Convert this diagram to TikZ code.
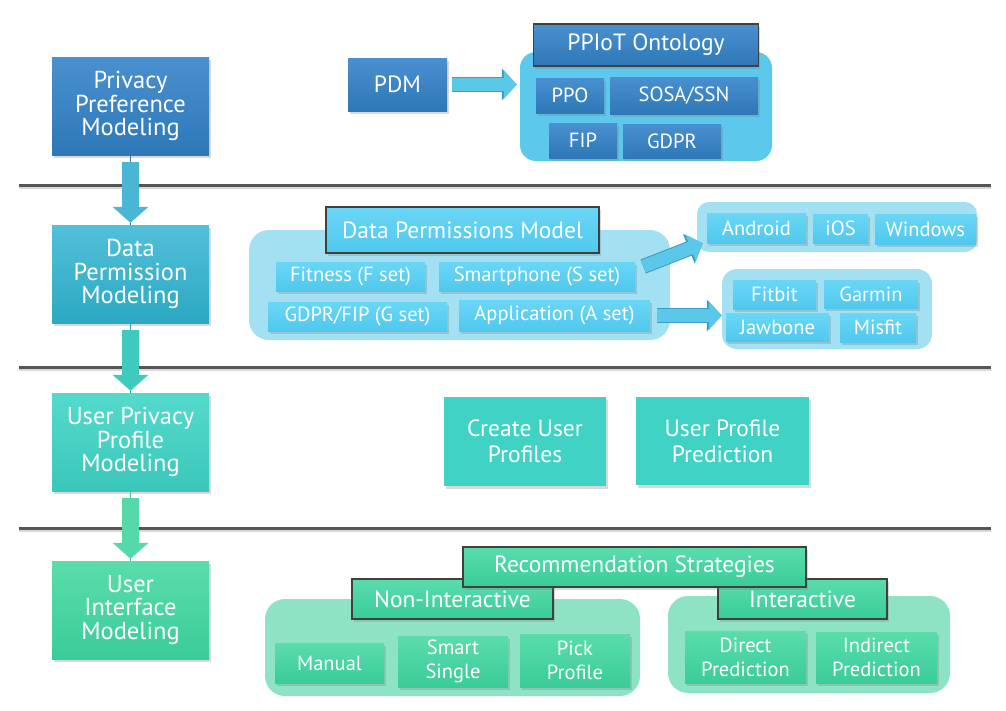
\documentclass[tikz,border=0pt]{standalone}
\usepackage{fontspec}
\setmainfont{PT Sans}
\usepackage{tikz}
\usetikzlibrary{arrows.meta}
\usetikzlibrary{shadows}
\usetikzlibrary{positioning}

\definecolor{blueTop}{HTML}{4A90D0}
\definecolor{blueBot}{HTML}{2E78B8}
\definecolor{tealTop}{HTML}{52C0DA}
\definecolor{tealBot}{HTML}{2CA8C2}
\definecolor{aquaTop}{HTML}{55DACD}
\definecolor{aquaBot}{HTML}{3AC7BA}
\definecolor{aquaFlat}{HTML}{40D3C5}
\definecolor{greenTop}{HTML}{5ADDAB}
\definecolor{greenBot}{HTML}{3ACC98}
\definecolor{skyTop}{HTML}{6AD6F6}
\definecolor{skyBot}{HTML}{50C8EE}
\definecolor{ontFill}{HTML}{5BC8EC}
\definecolor{paleSky}{HTML}{A2E0F2}
\definecolor{paleGreen}{HTML}{8EE3C5}
\definecolor{arrowA}{HTML}{48B6D4}
\definecolor{arrowB}{HTML}{3ECBBE}
\definecolor{arrowC}{HTML}{56D9A9}
\definecolor{sideArrow}{HTML}{5BC8EA}
\definecolor{sideEdge}{HTML}{3A9CC8}
\definecolor{sepLine}{HTML}{555555}

\begin{document}
\begin{tikzpicture}[x=1pt,y=-1pt,
	box/.style={text=white, align=center, inner sep=0pt,
		drop shadow={shadow xshift=1.5pt, shadow yshift=-2.5pt, opacity=.3}},
	huge/.style={font=\fontsize{24.5}{23.5}\selectfont},
	big/.style={font=\fontsize{23.5}{26}\selectfont},
	small/.style={font=\fontsize{20.5}{24}\selectfont},
	blue box/.style={box, top color=blueTop, bottom color=blueBot},
	teal box/.style={box, top color=tealTop, bottom color=tealBot},
	aqua box/.style={box, top color=aquaTop, bottom color=aquaBot},
	green box/.style={box, top color=greenTop, bottom color=greenBot},
	sky box/.style={box, top color=skyTop, bottom color=skyBot},
	head/.style={draw=black!75, line width=1.2pt},
	group/.style={rounded corners=16pt, inner sep=0pt},
	down arrow/.style={draw=#1, line width=17pt, shorten <=7pt, shorten >=2pt,
		-{Triangle[length=16pt,width=35pt]}},
	side arrow/.style={draw=sideArrow, line width=13pt,
		preaction={draw=sideEdge, line width=15pt, -{Triangle[length=15pt,width=31pt]}},
		-{Triangle[length=13pt,width=28pt]}},
	sep/.style={draw=sepLine, line width=3pt,
		preaction={draw=black!15, line width=3pt, transform canvas={yshift=-2pt}}}
	]
	\useasboundingbox (0,0) rectangle (1006,710);

	% layer separators
	\foreach \y in {185,367,528}{
		\draw[sep] (19,\y) -- (991,\y);
	}

	% left column
	\node[blue box, huge, minimum width=157pt, minimum height=98pt] (ppm) at (130.5,106) {Privacy\\Preference\\Modeling};
	\node[teal box, huge, minimum width=157pt, minimum height=98pt] (dpm) at (130.5,274) {Data\\Permission\\Modeling};
	\node[aqua box, huge, minimum width=157pt, minimum height=98pt] (upm) at (130.5,442) {User Privacy\\Profile\\Modeling};
	\node[green box, huge, minimum width=157pt, minimum height=98pt] (uim) at (130.5,610) {User\\Interface\\Modeling};

	\draw[blueBot] (ppm.south) -- (dpm.north);
	\draw[tealBot] (dpm.south) -- (upm.north);
	\draw[aquaBot] (upm.south) -- (uim.north);
	\draw[down arrow=arrowA] (ppm.south) -- (dpm.north);
	\draw[down arrow=arrowB] (dpm.south) -- (upm.north);
	\draw[down arrow=arrowC] (upm.south) -- (uim.north);

	% privacy preference layer
	\node[blue box, big, minimum width=99pt, minimum height=53pt] (pdm) at (397.5,84.5) {PDM};
	\node[group, fill=ontFill, minimum width=252pt, minimum height=109pt] (ontbox) at (646,106.5) {};
	\node[blue box, big, head, minimum width=225pt, minimum height=42pt] (ont) at (646,45) {PPIoT Ontology};
	\node[blue box, small, minimum width=68pt, minimum height=35pt] (ppo) at (570,95.5) {PPO};
	\node[blue box, small, minimum width=148pt, minimum height=37pt] (sosa) at (684,95.5) {SOSA/SSN};
	\node[blue box, small, minimum width=68pt, minimum height=35pt] (fip) at (583,140.5) {FIP};
	\node[blue box, small, minimum width=98pt, minimum height=34pt] (gdpr) at (672,141) {GDPR};
	\draw[side arrow, shorten <=5pt, shorten >=3pt] (pdm.east) -- (pdm.east -| ontbox.west);

	% data permission layer
	\node[group, rounded corners=20pt, fill=paleSky, minimum width=421pt, minimum height=110pt] (dpbox) at (459.5,285) {};
	\node[sky box, big, head, minimum width=273pt, minimum height=46pt] (dpmodel) at (462.5,230) {Data Permissions Model};
	\node[sky box, small, minimum width=149pt, minimum height=29pt] (fit) at (350.5,276.5) {Fitness (F set)};
	\node[sky box, small, minimum width=196pt, minimum height=29pt] (sph) at (537,276.5) {Smartphone (S set)};
	\node[sky box, small, minimum width=179pt, minimum height=29pt] (gdf) at (357.5,316.5) {GDPR/FIP (G set)};
	\node[sky box, small, minimum width=191pt, minimum height=31pt] (app) at (554.5,315.5) {Application (A set)};

	\node[group, rounded corners=12pt, fill=paleSky, minimum width=280pt, minimum height=50pt] (osbox) at (837,227) {};
	\node[sky box, small, minimum width=99pt, minimum height=30pt] (android) at (756.5,228) {Android};
	\node[sky box, small, minimum width=55pt, minimum height=29pt] (ios) at (840.5,228.5) {iOS};
	\node[sky box, small, minimum width=101pt, minimum height=30pt] (win) at (925.5,229) {Windows};

	\node[group, rounded corners=15pt, fill=paleSky, minimum width=210pt, minimum height=80pt] (devbox) at (827,309) {};
	\node[sky box, small, minimum width=83pt, minimum height=29pt] (fitbit) at (774.5,294.5) {Fitbit};
	\node[sky box, small, minimum width=94pt, minimum height=28pt] (garmin) at (871,294) {Garmin};
	\node[sky box, small, minimum width=103pt, minimum height=28pt] (jawbone) at (777.5,327) {Jawbone};
	\node[sky box, small, minimum width=76pt, minimum height=29pt] (misfit) at (878,327.5) {Misfit};

	\draw[side arrow] ([xshift=8pt,yshift=10pt]sph.east) -- ([xshift=6pt,yshift=9pt]osbox.south west);
	\draw[side arrow, shorten <=7pt] (app.east) -- (app.east -| devbox.west);

	% user privacy profile layer
	\node[box, fill=aquaFlat, big, minimum width=162pt, minimum height=89pt] (cup) at (525,441.5) {Create User\\Profiles};
	\node[box, fill=aquaFlat, big, minimum width=173pt, minimum height=88pt] (upp) at (722.5,441) {User Profile\\Prediction};

	% user interface layer
	\node[group, rounded corners=20pt, fill=paleGreen, minimum width=375pt, minimum height=97pt] (nonbox) at (452.5,647.5) {};
	\node[group, rounded corners=20pt, fill=paleGreen, minimum width=282pt, minimum height=97pt] (intbox) at (809,644.5) {};
	\node[green box, big, head, minimum width=201pt, minimum height=40pt] (non) at (452.5,599) {Non-Interactive};
	\node[green box, big, head, minimum width=169pt, minimum height=40pt] (int) at (802.5,599) {Interactive};
	\node[green box, big, head, minimum width=343pt, minimum height=40pt] (rec) at (634.5,567) {Recommendation Strategies};

	\node[green box, small, minimum width=109pt, minimum height=40pt] (manual) at (329.5,663) {Manual};
	\node[green box, small, minimum width=110pt, minimum height=51pt] (smart) at (453,661.5) {Smart\\Single};
	\node[green box, small, minimum width=110pt, minimum height=53pt] (pick) at (575,660.5) {Pick\\Profile};
	\node[green box, small, minimum width=121pt, minimum height=52pt] (direct) at (745.5,657) {Direct\\Prediction};
	\node[green box, small, minimum width=121pt, minimum height=51pt] (indirect) at (876.5,657.5) {Indirect\\Prediction};
\end{tikzpicture}
\end{document}
